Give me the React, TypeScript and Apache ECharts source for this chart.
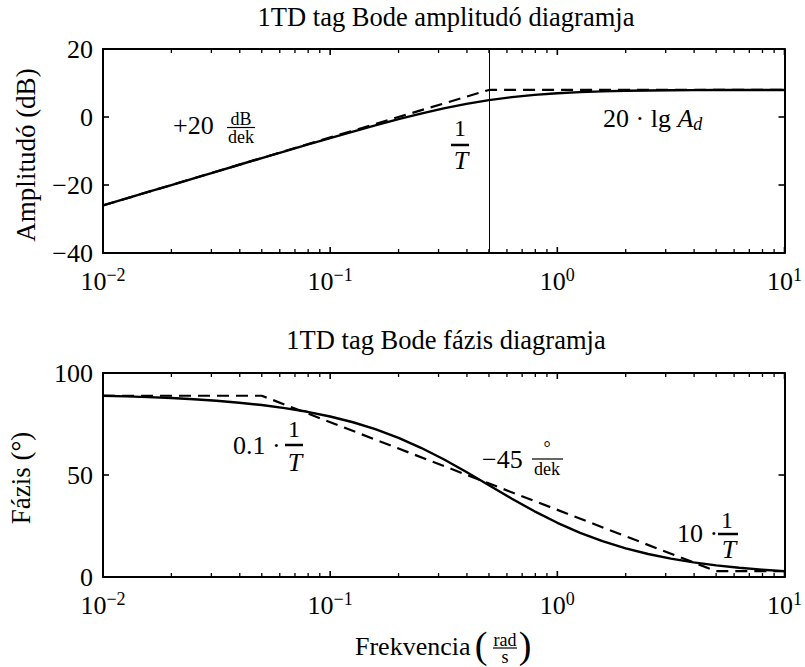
import React, { useEffect, useRef } from "react";
import * as echarts from "echarts";

// ---------- data ----------
const freq = [
  0.01, 0.0126, 0.0158, 0.02, 0.0251, 0.0316, 0.0398, 0.05, 0.0631, 0.0794,
  0.1, 0.126, 0.158, 0.2, 0.251, 0.316, 0.398, 0.5, 0.631, 0.794,
  1, 1.26, 1.58, 2, 2.51, 3.16, 3.98, 5, 6.31, 7.94, 10,
];
const ampDb = [
  -26.02, -24.02, -22.05, -20.01, -18.04, -16.05, -14.05, -12.08, -10.09, -8.13,
  -6.19, -4.28, -2.46, -0.64, 0.99, 2.52, 3.85, 4.95, 5.84, 6.51,
  6.99, 7.33, 7.54, 7.7, 7.79, 7.85, 7.89, 7.92, 7.93, 7.94, 7.95,
];
const phaseDeg = [
  88.85, 88.56, 88.19, 87.71, 87.13, 86.38, 85.45, 84.29, 82.81, 80.98,
  78.69, 75.86, 72.46, 68.2, 63.34, 57.71, 51.48, 45.0, 38.39, 32.2,
  26.57, 21.64, 17.56, 14.04, 11.27, 8.99, 7.16, 5.71, 4.53, 3.6, 2.86,
];
const ampAsymFreq = [0.01, 0.5, 10];
const ampAsymDb = [-26.02, 7.96, 7.96];
const phaseAsymFreq = [0.01, 0.05, 5, 10];
const phaseAsymDeg = [88.85, 88.85, 2.86, 2.86];
const cornerFreq = 0.5;

const xMajorTicks = [0.01, 0.1, 1, 10];
const xMinorTicks = [
  0.02, 0.03, 0.04, 0.05, 0.06, 0.07, 0.08, 0.09,
  0.2, 0.3, 0.4, 0.5, 0.6, 0.7, 0.8, 0.9,
  2, 3, 4, 5, 6, 7, 8, 9,
];
const ampTicks = [-40, -20, 0, 20];
const phaseTicks = [0, 50, 100];

const titleAmp = "1TD tag Bode amplitudó diagramja";
const titlePhase = "1TD tag Bode fázis diagramja";
const yNameAmp = "Amplitudó (dB)";
const yNamePhase = "Fázis (°)";

// ---------- style ----------
const FONT = "'Liberation Serif', 'Times New Roman', serif";
const BLACK = "#000";
const GRID_LEFT = 103;
const GRID_W = 686;
const GRID_H = 204;
const TOP1 = 49;
const TOP2 = 373;
const MAJOR_LEN = 6;
const MINOR_LEN = 4;
const X_MIN = 0.01;
const X_MAX = 10;

function pair(xs: number[], ys: number[]) {
  return xs.map((x, i) => [x, ys[i]]);
}

function supLabel(v: number) {
  const e = Math.round(Math.log10(v));
  const s = e < 0 ? "\u2212" + String(-e) : String(e);
  return "{b|10}{e|" + s + "}";
}

function xAxesFor(gridIndex: number) {
  const common = {
    type: "log" as const,
    logBase: 10,
    min: X_MIN,
    max: X_MAX,
    gridIndex,
    splitLine: { show: false },
    minorTick: { show: false },
    axisTick: { show: false },
  };
  return [
    {
      ...common,
      position: "bottom",
      axisLine: { show: true, onZero: false, lineStyle: { color: BLACK, width: 2 } },
      axisLabel: {
        show: true,
        customValues: xMajorTicks,
        margin: 13,
        formatter: (v: number) => supLabel(v),
        rich: {
          b: { fontSize: 26, fontFamily: FONT, color: BLACK, lineHeight: 30 },
          e: {
            fontSize: 18,
            fontFamily: FONT,
            color: BLACK,
            lineHeight: 18,
            verticalAlign: "top",
          },
        },
      },
    },
    {
      ...common,
      position: "top",
      axisLine: { show: true, onZero: false, lineStyle: { color: BLACK, width: 2 } },
      axisLabel: { show: false },
    },
  ];
}

function yAxesFor(gridIndex: number, ticks: number[]) {
  const common = {
    type: "value" as const,
    gridIndex,
    min: ticks[0],
    max: ticks[ticks.length - 1],
    interval: ticks[1] - ticks[0],
    splitLine: { show: false },
    axisLine: { show: true, onZero: false, lineStyle: { color: BLACK, width: 2 } },
    axisTick: { show: false },
  };
  return [
    {
      ...common,
      position: "left",
      axisLabel: {
        show: true,
        margin: 10,
        fontSize: 26,
        fontFamily: FONT,
        color: BLACK,
        formatter: (v: number) => (v < 0 ? "\u2212" + String(-v) : String(v)),
      },
    },
    { ...common, position: "right", axisLabel: { show: false } },
  ];
}

// tick marks drawn as custom series through the axes' scales (box ticks, inward)
function xTickSeries(xi: number, yi: number, vals: number[], yMin: number, yMax: number, len: number, w: number) {
  return {
    type: "custom",
    xAxisIndex: xi,
    yAxisIndex: yi,
    silent: true,
    clip: false,
    z: 5,
    data: vals.map((v) => [v, yMin]),
    encode: { x: 0, y: 1 },
    renderItem: (_p: any, api: any) => {
      const v = api.value(0);
      const b = api.coord([v, yMin]);
      const t = api.coord([v, yMax]);
      return {
        type: "group",
        children: [
          { type: "line", shape: { x1: b[0], y1: b[1], x2: b[0], y2: b[1] - len }, style: { stroke: BLACK, lineWidth: w } },
          { type: "line", shape: { x1: t[0], y1: t[1], x2: t[0], y2: t[1] + len }, style: { stroke: BLACK, lineWidth: w } },
        ],
      };
    },
  };
}

function yTickSeries(xi: number, yi: number, vals: number[], len: number, w: number) {
  return {
    type: "custom",
    xAxisIndex: xi,
    yAxisIndex: yi,
    silent: true,
    clip: false,
    z: 5,
    data: vals.map((v) => [X_MIN, v]),
    encode: { x: 0, y: 1 },
    renderItem: (_p: any, api: any) => {
      const v = api.value(1);
      const l = api.coord([X_MIN, v]);
      const r = api.coord([X_MAX, v]);
      return {
        type: "group",
        children: [
          { type: "line", shape: { x1: l[0], y1: l[1], x2: l[0] + len, y2: l[1] }, style: { stroke: BLACK, lineWidth: w } },
          { type: "line", shape: { x1: r[0], y1: r[1], x2: r[0] - len, y2: r[1] }, style: { stroke: BLACK, lineWidth: w } },
        ],
      };
    },
  };
}

function txt(
  text: string,
  x: number,
  y: number,
  size: number,
  opts: Record<string, any> = {}
) {
  return {
    type: "text",
    x,
    y,
    silent: true,
    style: {
      text,
      fontSize: size,
      fontFamily: FONT,
      fill: BLACK,
      align: "center",
      verticalAlign: "middle",
      ...opts,
    },
  };
}

function bar(x1: number, x2: number, y: number, w = 1.5) {
  return {
    type: "line",
    silent: true,
    shape: { x1, y1: y, x2, y2: y },
    style: { stroke: BLACK, lineWidth: w },
  };
}

export default function App() {
  const ref = useRef<HTMLDivElement>(null);

  useEffect(() => {
    if (!ref.current) return;
    const chart = echarts.init(ref.current, null, { renderer: "svg" });

    const solid = { color: BLACK, width: 2.4, type: "solid" as const };
    const dashed = { color: BLACK, width: 2.2, type: [12, 7] as any };

    const texts: any[] = [
      txt(titleAmp, 446, 17, 26.5),
      txt(titlePhase, 446, 340, 26.5),
      { ...txt(yNameAmp, 26, 155, 27), rotation: Math.PI / 2 },
      { ...txt(yNamePhase, 21, 478, 27), rotation: Math.PI / 2 },
      txt("+20", 173, 125, 26, { align: "left" }),
      txt("dB", 241, 119, 18, { lineHeight: 16 }),
      bar(227, 255, 127.5, 1.2),
      txt("dek", 241, 137, 18, { lineHeight: 16 }),
      txt("1", 460, 128, 24, { lineHeight: 18 }),
      bar(451, 469, 145, 2.5),
      txt("T", 461, 160, 26, { fontStyle: "italic", lineHeight: 20 }),
      {
        type: "text",
        x: 603,
        y: 118,
        silent: true,
        style: {
          text: "20 · lg {a|A}{d|d}",
          fontSize: 26,
          fontFamily: FONT,
          fill: BLACK,
          align: "left",
          verticalAlign: "middle",
          rich: {
            a: { fontSize: 26, fontFamily: FONT, fontStyle: "italic", fill: BLACK, lineHeight: 30 },
            d: {
              fontSize: 18,
              fontFamily: FONT,
              fontStyle: "italic",
              fill: BLACK,
              lineHeight: 18,
              verticalAlign: "bottom",
            },
          },
        },
      },
      txt("0.1 ·", 233, 445, 26, { align: "left" }),
      txt("1", 294, 429, 24, { lineHeight: 18 }),
      bar(285, 303, 445, 2.5),
      txt("T", 295, 462, 26, { fontStyle: "italic", lineHeight: 20 }),
      txt("\u221245", 482, 459, 26, { align: "left" }),
      txt("°", 547, 448, 18, { lineHeight: 14 }),
      bar(532, 563, 459, 1.2),
      txt("dek", 547, 469, 18, { lineHeight: 16 }),
      txt("10 ·", 677, 533, 26, { align: "left" }),
      txt("1", 727, 520, 24, { lineHeight: 18 }),
      bar(718, 738, 534, 2.5),
      txt("T", 729, 549, 26, { fontStyle: "italic", lineHeight: 20 }),
      txt("Frekvencia", 355, 646, 26, { align: "left" }),
      txt("(", 481, 645, 38, { lineHeight: 36 }),
      txt("rad", 505, 640, 18, { lineHeight: 14 }),
      bar(493, 517, 648, 1.2),
      txt("s", 505, 657, 18, { lineHeight: 14 }),
      txt(")", 525, 645, 38, { lineHeight: 36 }),
    ];

    const ampMin = ampTicks[0];
    const ampMax = ampTicks[ampTicks.length - 1];
    const phMin = phaseTicks[0];
    const phMax = phaseTicks[phaseTicks.length - 1];

    chart.setOption({
      animation: false,
      backgroundColor: "#fff",
      grid: [
        { left: GRID_LEFT, top: TOP1, width: GRID_W, height: GRID_H, containLabel: false },
        { left: GRID_LEFT, top: TOP2, width: GRID_W, height: GRID_H, containLabel: false },
      ],
      xAxis: [...xAxesFor(0), ...xAxesFor(1)],
      yAxis: [...yAxesFor(0, ampTicks), ...yAxesFor(1, phaseTicks)],
      series: [
        {
          type: "line",
          name: "amp-asym",
          xAxisIndex: 0,
          yAxisIndex: 0,
          data: pair(ampAsymFreq, ampAsymDb),
          showSymbol: false,
          lineStyle: dashed,
          silent: true,
        },
        {
          type: "line",
          name: "amp",
          xAxisIndex: 0,
          yAxisIndex: 0,
          data: pair(freq, ampDb),
          showSymbol: false,
          lineStyle: solid,
          silent: true,
          markLine: {
            silent: true,
            symbol: ["none", "none"],
            label: { show: false },
            lineStyle: { color: BLACK, width: 1, type: "solid" },
            data: [{ xAxis: cornerFreq }],
          },
        },
        {
          type: "line",
          name: "phase-asym",
          xAxisIndex: 2,
          yAxisIndex: 2,
          data: pair(phaseAsymFreq, phaseAsymDeg),
          showSymbol: false,
          lineStyle: dashed,
          silent: true,
        },
        {
          type: "line",
          name: "phase",
          xAxisIndex: 2,
          yAxisIndex: 2,
          data: pair(freq, phaseDeg),
          showSymbol: false,
          lineStyle: solid,
          silent: true,
        },
        xTickSeries(0, 0, xMajorTicks, ampMin, ampMax, MAJOR_LEN, 1.6),
        xTickSeries(0, 0, xMinorTicks, ampMin, ampMax, MINOR_LEN, 1.3),
        yTickSeries(0, 0, ampTicks, MAJOR_LEN, 1.6),
        xTickSeries(2, 2, xMajorTicks, phMin, phMax, MAJOR_LEN, 1.6),
        xTickSeries(2, 2, xMinorTicks, phMin, phMax, MINOR_LEN, 1.3),
        yTickSeries(2, 2, phaseTicks, MAJOR_LEN, 1.6),
      ],
      graphic: texts,
    });

    return () => chart.dispose();
  }, []);

  return (
    <div
      ref={ref}
      style={{ position: "absolute", left: 0, top: 0, width: 805, height: 667, background: "#fff" }}
    />
  );
}
